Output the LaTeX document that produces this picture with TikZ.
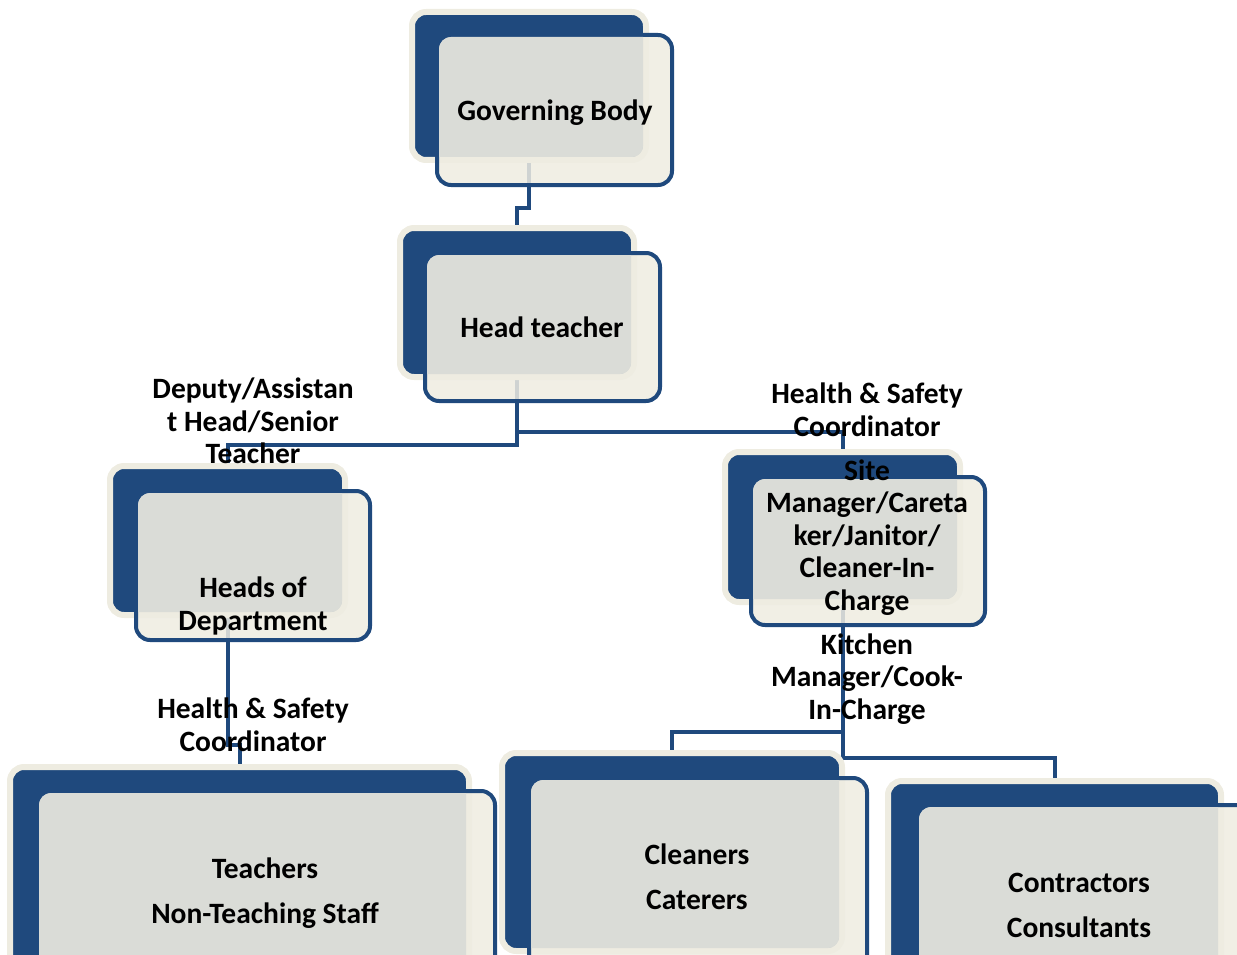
\documentclass[tikz,border=0pt]{standalone}
\usepackage{fontspec}
\setmainfont{Carlito}
\usetikzlibrary{calc}
\definecolor{dblue}{HTML}{1F497D}
\definecolor{cream}{HTML}{EEECE1}
\definecolor{ovgray}{HTML}{DADCD7}
\pgfdeclarelayer{bg}
\pgfsetlayers{bg,main}
\newcommand\orgbox[7]{%
  \node[backbox, minimum width=#3pt, minimum height=#4pt] (#1B) at #2 {};
  \node[frontbox, minimum width=#6pt, minimum height=#7pt] (#1F) at #5 {};
  \begin{scope}
    \clip[rounded corners=12pt] ($(#1F.north west)+(2,2)$) rectangle ($(#1F.south east)+(-2,-2)$);
    \fill[ovgray, rounded corners=11pt] ($(#1B.north west)+(3,3)$) rectangle ($(#1B.south east)+(-3,-3)$);
  \end{scope}
}
\begin{document}
\begin{tikzpicture}[x=1pt,y=-1pt,
  backbox/.style={draw=cream, line width=6pt, fill=dblue, rounded corners=14pt, inner sep=0pt, outer sep=0pt},
  frontbox/.style={draw=dblue, line width=4pt, fill=cream, fill opacity=0.85, rounded corners=14pt, inner sep=0pt, outer sep=0pt},
  conn/.style={draw=dblue, line width=4pt},
  lbl/.style={align=center, inner sep=0pt, text=black, font=\fontsize{29.5}{32.5}\selectfont\bfseries},
  biglbl/.style={align=center, inner sep=0pt, text=black, font=\fontsize{29.5}{32.5}\selectfont\bfseries}]
\useasboundingbox (0,0) rectangle (1237,955);
\clip (0,0) rectangle (1237,955);

\orgbox{gb}{(529,86)}{234}{148}{(554.5,110)}{235}{150}
\orgbox{ht}{(517,302.5)}{234}{149}{(542.5,327)}{235}{148}
\orgbox{hd}{(227.5,540.5)}{235}{149}{(253,565.5)}{234}{149}
\orgbox{sm}{(842.5,527)}{235}{150}{(868,551)}{234}{148}
\orgbox{tc}{(239.5,888.5)}{459}{243}{(266,910)}{458}{238}
\orgbox{cl}{(672,852)}{340}{198}{(698,904)}{338}{252}
\orgbox{ct}{(1054.5,905)}{333}{248}{(1093.5,927)}{353}{244}

\begin{pgfonlayer}{bg}
  \draw[conn] (gbB.south) -- ++(0,48) -| (htB.north);
  \draw[conn] (htB.south) -- ++(0,68) -| (hdB.north);
  \draw[conn] (htB.south) -- ++(0,55) -| (smB.north);
  \draw[conn] (hdB.south) -- ++(0,130) -| (tcB.north);
  \draw[conn] (smB.south) -- ++(0,130) -| (clB.north);
  \draw[conn] (smB.south) -- ++(0,156) -| (ctB.north);
\end{pgfonlayer}

\node[lbl] (tgb) at (555,113) {Governing Body};
\node[lbl] (tht) at (542,327) {Head teacher};
\node[lbl] (tdep) at (253,421) {Deputy/Assistan\\t Head/Senior\\Teacher};
\node[lbl] (ths1) at (867,410) {Health \& Safety\\Coordinator};
\node[lbl] (tsm) at (867,537.5) {Site\\Manager/Careta\\ker/Janitor/\\Cleaner-In-\\Charge};
\node[lbl] (thd) at (253,606) {Heads of\\Department};
\node[lbl] (tkm) at (867,679) {Kitchen\\Manager/Cook-\\In-Charge};
\node[lbl] (ths2) at (253,725) {Health \& Safety\\Coordinator};
\node[biglbl] (ttc) at (265,893) {Teachers\\[12.5pt]Non-Teaching Staff};
\node[biglbl] (tcl) at (697,876.5) {Cleaners\\[12.5pt]Caterers};
\node[biglbl] (tct) at (1079,905) {Contractors\\[12.5pt]Consultants};
\end{tikzpicture}
\end{document}
